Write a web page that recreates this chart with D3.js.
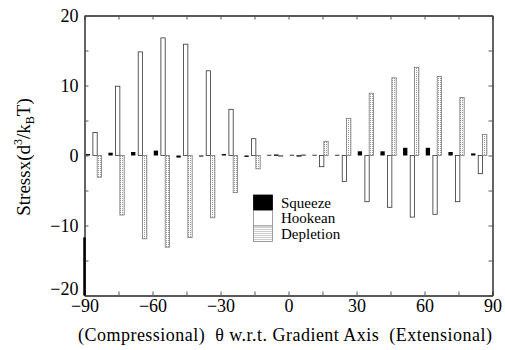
<!DOCTYPE html>
<html>
<head>
<meta charset="utf-8">
<script src="https://cdn.jsdelivr.net/npm/d3@7"></script>
<style>
  body { margin: 0; background: #fff; }
  svg { display: block; font-family: "Liberation Serif", "DejaVu Serif", serif; }
</style>
</head>
<body>
<svg width="505" height="350"></svg>
<script>
// angle of each group (degrees w.r.t. gradient axis)
const angles = [-85, -75, -65, -55, -45, -35, -25, -15, -5, 5, 15, 25, 35, 45, 55, 65, 75, 85]
// stress contributions
const squeeze = [0.2, 0.4, 0.5, 0.7, -0.3, -0.15, 0.2, -0.2, 0.1, 0.1, 0.1, 0.1, 0.6, 0.6, 1.1, 1.1, 0.5, 0.3]
const hookean = [3.3, 9.9, 14.8, 16.8, 15.9, 12.1, 6.6, 2.4, 0.1, -0.1, -1.6, -3.7, -6.6, -7.4, -8.8, -8.4, -6.6, -2.6]
const depletion = [-3.1, -8.5, -11.9, -13.1, -11.7, -8.9, -5.3, -1.9, -0.1, 0.1, 2.0, 5.3, 8.9, 11.1, 12.6, 11.3, 8.3, 3.0]
const xTicks = d3.range(-90, 91, 15)
const yTicks = d3.range(-20, 21, 5)
const legendNames = ["Squeeze", "Hookean", "Depletion"]

const svg = d3.select("svg")
const x = d3.scaleLinear().domain([-90, 90]).range([84.5, 492.5])
const y = d3.scaleLinear().domain([-20, 20]).range([295.5, 15.5])

// stipple for the depletion bars
const pat = svg.append("defs").append("pattern")
  .attr("id", "dots")
  .attr("width", 2).attr("height", 2)
  .attr("patternUnits", "userSpaceOnUse")
pat.append("rect").attr("width", 2).attr("height", 2).attr("fill", "#fff")
pat.append("rect").attr("width", 1).attr("height", 1).attr("fill", "#999")

const barW = 1.9
const series = [
  {name: "Squeeze", values: squeeze, off: -4.45, fill: "#000", stroke: "#000"},
  {name: "Hookean", values: hookean, off: -1.3, fill: "#fff", stroke: "#333"},
  {name: "Depletion", values: depletion, off: 0.6, fill: "url(#dots)", stroke: "#777"}
]

series.forEach(s => {
  svg.append("g")
    .selectAll("rect")
    .data(angles.map((a, i) => ({a, v: s.values[i]})))
    .join("rect")
    .attr("x", d => x(d.a + s.off))
    .attr("width", x(barW) - x(0))
    .attr("y", d => y(Math.max(0, d.v)))
    .attr("height", d => Math.max(0.8, Math.abs(y(d.v) - y(0))))
    .attr("fill", s.fill)
    .attr("stroke", s.stroke)
    .attr("stroke-width", s.name === "Squeeze" ? 0 : 0.8)
})

// axes
const fmt = d => d % 30 === 0 ? d3.format("")(d) : ""
const fmtY = d => d % 10 === 0 ? d3.format("")(d) : ""

const gx = svg.append("g").attr("transform", `translate(0,${y(-20)})`)
  .call(d3.axisBottom(x).tickValues(xTicks).tickFormat(fmt).tickSizeInner(-4).tickSizeOuter(0).tickPadding(4))
const gx2 = svg.append("g").attr("transform", `translate(0,${y(20)})`)
  .call(d3.axisTop(x).tickValues(xTicks).tickFormat("").tickSizeInner(-4).tickSizeOuter(0))
const gy = svg.append("g").attr("transform", `translate(${x(-90)},0)`)
  .call(d3.axisLeft(y).tickValues(yTicks).tickFormat(fmtY).tickSizeInner(-4).tickSizeOuter(0).tickPadding(6))
const gy2 = svg.append("g").attr("transform", `translate(${x(90)},0)`)
  .call(d3.axisRight(y).tickValues(yTicks).tickFormat("").tickSizeInner(-4).tickSizeOuter(0))

;[gx, gx2, gy, gy2].forEach(g => {
  g.select(".domain").attr("stroke", "#222").attr("stroke-width", 1.4)
  g.selectAll(".tick line").attr("stroke", "#555")
  g.selectAll("text").attr("font-family", "Liberation Serif").attr("font-size", 18).attr("fill", "#000")
})
// the lowest label sits above the corner, clear of the x labels
gy.selectAll(".tick text").filter(d => d === -20).attr("dy", "-0.05em")

// thick piece of the left axis near the bottom
svg.append("line")
  .attr("x1", x(-90)).attr("x2", x(-90))
  .attr("y1", y(-11.7)).attr("y2", y(-20))
  .attr("stroke", "#000").attr("stroke-width", 2.5)

// legend
const lg = svg.append("g").attr("transform", "translate(253.5,195)")
legendNames.forEach((n, i) => {
  const s = series[i]
  lg.append("rect")
    .attr("x", 0).attr("y", i * 15.5)
    .attr("width", 19).attr("height", 15.5)
    .attr("fill", s.fill)
    .attr("stroke", i === 0 ? "#000" : "#888")
    .attr("stroke-width", 0.8)
  lg.append("text")
    .attr("x", 27.5).attr("y", i * 15.5 + 12.5)
    .attr("font-size", 15)
    .text(n)
})

// axis titles
svg.append("text")
  .attr("x", 285).attr("y", 341)
  .attr("text-anchor", "middle")
  .attr("font-size", 18)
  .attr("textLength", 414)
  .attr("lengthAdjust", "spacing")
  .attr("xml:space", "preserve")
  .style("white-space", "pre")
  .text("(Compressional)  θ w.r.t. Gradient Axis  (Extensional)")

const yt = svg.append("text")
  .attr("transform", "translate(30,157) rotate(-90)")
  .attr("text-anchor", "middle")
  .attr("font-size", 19)
yt.append("tspan").text("Stressx(d")
yt.append("tspan").attr("font-size", 12).attr("dy", -8).text("3")
yt.append("tspan").attr("dy", 8).text("/k")
yt.append("tspan").attr("font-size", 12).attr("dy", 4).text("B")
yt.append("tspan").attr("dy", -4).text("T)")
</script>
</body>
</html>
